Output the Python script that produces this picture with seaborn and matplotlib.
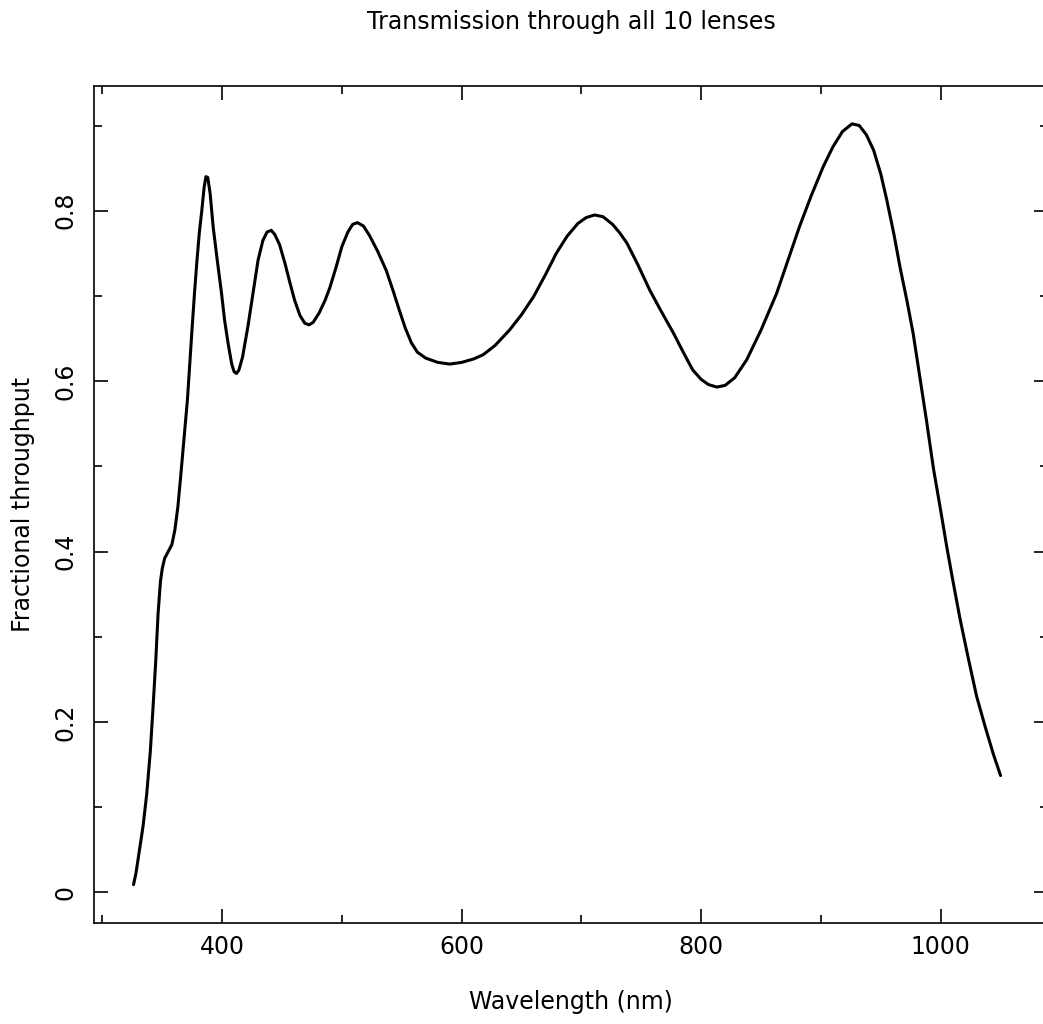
import pandas as pd
import seaborn as sns
import matplotlib.pyplot as plt
from matplotlib.ticker import MultipleLocator, FuncFormatter

# values
wavelength = [326, 328, 331, 334, 337, 340, 342, 344.5, 346.5, 348.5, 350, 352,
              355, 358, 360.5, 363, 365.5, 368, 371, 373, 375, 377, 379, 381,
              383, 385, 386.5, 388, 390, 392.5, 396, 399.5, 402, 405, 408, 410,
              412, 414, 417, 421.5, 426, 430, 434, 437.5, 441, 444, 448, 452.5,
              456.5, 460.5, 465, 469, 472.5, 476, 481, 486, 490, 495, 500, 505,
              509, 513, 518, 523, 530, 537, 543, 548, 553, 558, 563, 570, 580,
              590, 600, 610, 618, 628, 640, 650, 660, 670, 679, 688, 697, 704,
              711, 718, 726, 732, 738, 747, 757, 767, 777, 785, 793, 800, 806,
              813, 820, 828, 838, 850, 863, 872, 882, 892, 902, 910, 918, 926,
              932, 938, 944, 950, 955, 961, 966, 972, 977, 983, 988, 994, 1000,
              1005, 1010, 1016, 1023, 1030, 1037, 1044, 1050]
throughput = [0.009, 0.022, 0.050, 0.078, 0.115, 0.165, 0.21, 0.27, 0.327,
              0.365, 0.38, 0.392, 0.400, 0.408, 0.425, 0.452, 0.49, 0.53, 0.578,
              0.622, 0.664, 0.705, 0.742, 0.775, 0.80, 0.828, 0.840, 0.839,
              0.820, 0.781, 0.741, 0.703, 0.672, 0.644, 0.620, 0.611, 0.609,
              0.613, 0.628, 0.664, 0.705, 0.742, 0.765, 0.775, 0.777, 0.772,
              0.760, 0.738, 0.716, 0.695, 0.677, 0.668, 0.666, 0.669, 0.680,
              0.695, 0.710, 0.733, 0.758, 0.775, 0.784, 0.786, 0.782, 0.771,
              0.752, 0.730, 0.705, 0.683, 0.662, 0.645, 0.634, 0.627, 0.622,
              0.620, 0.622, 0.626, 0.631, 0.642, 0.660, 0.678, 0.699, 0.725,
              0.750, 0.770, 0.785, 0.792, 0.795, 0.793, 0.784, 0.774, 0.762,
              0.737, 0.707, 0.681, 0.656, 0.634, 0.613, 0.602, 0.596, 0.593,
              0.595, 0.604, 0.625, 0.660, 0.703, 0.740, 0.781, 0.818, 0.852,
              0.875, 0.893, 0.902, 0.900, 0.889, 0.871, 0.843, 0.8125, 0.772,
              0.734, 0.693, 0.656, 0.601, 0.555, 0.497, 0.448, 0.406, 0.367,
              0.322, 0.275, 0.23, 0.195, 0.162, 0.137]

df = pd.DataFrame({'wavelength': wavelength, 'throughput': throughput})

sns.set_style("ticks")
plt.rcParams['font.family'] = ['DejaVu Sans']
plt.rcParams['text.color'] = 'black'
plt.rcParams['axes.labelcolor'] = 'black'

fig = plt.figure(figsize=(10.43, 10.24), dpi=100)
ax = fig.add_axes([94 / 1043, 1 - 922.7 / 1024, (1048 - 94) / 1043, (922.7 - 86) / 1024])

sns.lineplot(data=df, x='wavelength', y='throughput', color='black',
             linewidth=2.2, sort=False, ax=ax, solid_capstyle='round',
             solid_joinstyle='round')

ax.set_xlim(293.0, 1089.6)
ax.set_ylim(-0.0357, 0.9464)

ax.xaxis.set_major_locator(MultipleLocator(200))
ax.xaxis.set_minor_locator(MultipleLocator(100))
ax.yaxis.set_major_locator(MultipleLocator(0.2))
ax.yaxis.set_minor_locator(MultipleLocator(0.1))
ax.yaxis.set_major_formatter(FuncFormatter(lambda v, p: '0' if abs(v) < 1e-9 else '%.1f' % v))

ax.tick_params(which='both', direction='in', top=True, right=True,
               width=1.2, color='black', labelsize=17, labelcolor='black')
ax.tick_params(which='major', length=10)
ax.tick_params(which='minor', length=5.5)
ax.tick_params(axis='x', which='major', pad=9)
ax.tick_params(axis='y', which='major', pad=12)
for lab in ax.get_yticklabels():
    lab.set_rotation(90)
    lab.set_va('center')

for s in ax.spines.values():
    s.set_linewidth(1.2)
    s.set_color('black')

ax.set_xlabel('Wavelength (nm)', fontsize=17, color='black')
ax.set_ylabel('Fractional throughput', fontsize=17, color='black')
ax.xaxis.set_label_coords(0.5, -0.080)
ax.yaxis.set_label_coords(-0.062, 0.5)
ax.set_title('Transmission through all 10 lenses', fontsize=17, pad=41, color='black')

fig.savefig('out.png', dpi=100)
